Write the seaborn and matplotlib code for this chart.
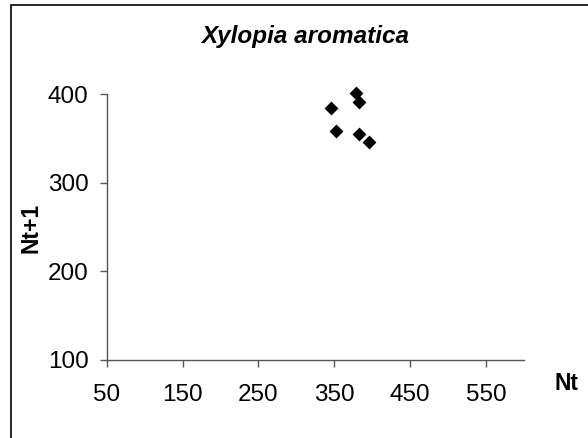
import matplotlib
matplotlib.use("Agg")
import matplotlib.pyplot as plt
import seaborn as sns
import pandas as pd
from matplotlib.patches import Rectangle

# Data
nt = [379, 382, 345, 352, 382, 396]
nt1 = [401, 391, 384, 359, 355, 346]
x_ticks = [50, 150, 250, 350, 450, 550]
y_ticks = [100, 200, 300, 400]
title = "Xylopia aromatica"

sns.set_style("white")
plt.rcParams['font.family'] = ['Liberation Sans', 'DejaVu Sans']
plt.rcParams['text.color'] = 'black'

df = pd.DataFrame({"Nt": nt, "Nt+1": nt1})

fig = plt.figure(figsize=(5.88, 4.38), dpi=100)
ax = fig.add_axes([106.7/588, 1-360/438, (524-106.7)/588, (360-94.3)/438])

sns.scatterplot(data=df, x="Nt", y="Nt+1", marker="D", color="black",
                s=50, linewidth=0, ax=ax, clip_on=False, legend=False)

ax.set_xlim(50, 600)
ax.set_ylim(100, 400)
ax.set_xticks(x_ticks)
ax.set_yticks(y_ticks)
ax.set_xlabel("")
ax.set_ylabel("")
for s in ["top", "right"]:
    ax.spines[s].set_visible(False)
for s in ["left", "bottom"]:
    ax.spines[s].set_color("#555555")
    ax.spines[s].set_linewidth(1.0)
ax.tick_params(axis="x", direction="out", length=5, width=1, color="#555555",
               labelsize=17.5, pad=12, bottom=True, labelcolor="black")
ax.tick_params(axis="y", direction="out", length=5, width=1, color="#555555",
               labelsize=17.5, pad=8, left=True, labelcolor="black")

fig.text(304.7/588, 1-36/438, title, ha="center", va="center",
         fontsize=17.5, fontweight="bold", fontstyle="italic", color="black")
fig.text(567/588, 1-383/438, "Nt", ha="center", va="center",
         fontsize=16.5, fontweight="bold", color="black")
fig.text(31/588, 1-227.5/438, "Nt+1", ha="center", va="center",
         fontsize=16.5, fontweight="bold", rotation=90, color="black")

# outer chart border
fig.add_artist(Rectangle((11/588, -0.05), 1.2, 1-5.5/438+0.05,
                         transform=fig.transFigure, fill=False,
                         edgecolor="black", linewidth=1.2))

fig.savefig("out.png", dpi=100)
